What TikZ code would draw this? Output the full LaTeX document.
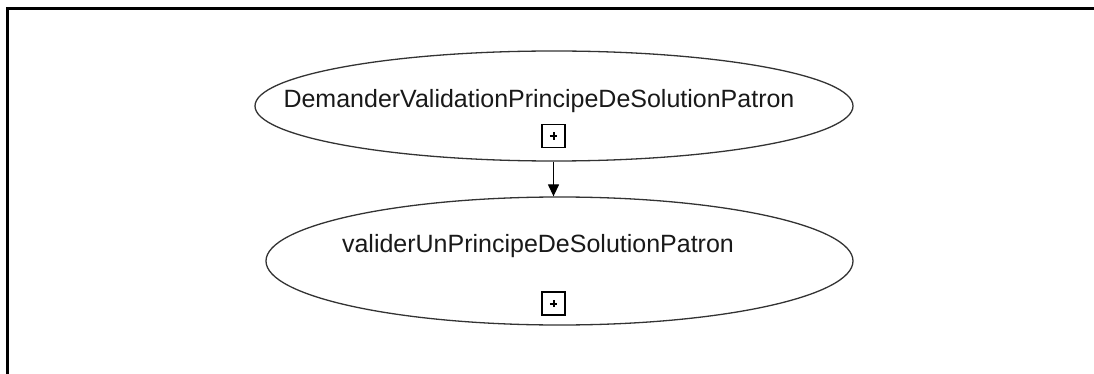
\documentclass[tikz,border=0pt]{standalone}
\usepackage{fontspec}
\setmainfont{Liberation Sans}
\usetikzlibrary{shapes.geometric,arrows.meta}
\begin{document}
\begin{tikzpicture}[x=1pt,y=-1pt,
  usecase/.style={draw=black!80, line width=1.3pt, ellipse, inner sep=0pt},
  lbl/.style={font=\fontsize{25}{29}\selectfont, inner sep=0pt, anchor=base, text=black!90},
  expbox/.style={draw, line width=1.3pt, minimum size=23pt, inner sep=0pt,
    path picture={
      \draw[line width=2pt] ([xshift=-3.6pt]path picture bounding box.center) -- ([xshift=3.6pt]path picture bounding box.center);
      \draw[line width=2pt] ([yshift=-3.6pt]path picture bounding box.center) -- ([yshift=3.6pt]path picture bounding box.center);
    }},
  link/.style={line width=1.3pt, -{Triangle[length=12pt,width=11pt]}}]
\useasboundingbox (0,0) rectangle (1094,374);
\draw[line width=3pt] (7.5,374) -- (7.5,8.8) -- (1094,8.8);

\node[usecase, minimum width=598pt, minimum height=110pt] (e1) at (554,106) {};
\node[usecase, minimum width=587pt, minimum height=128pt] (e2) at (559.5,261) {};

\node[lbl] (t1) at (539,108) {DemanderValidationPrincipeDeSolutionPatron};
\node[lbl] (t2) at (538,252) {validerUnPrincipeDeSolutionPatron};

\node[expbox] (b1) at (553.5,136) {};
\node[expbox] (b2) at (553.5,303.5) {};

\draw[link] (b1 |- e1.south) -- (b1 |- e2.north);
\end{tikzpicture}
\end{document}
